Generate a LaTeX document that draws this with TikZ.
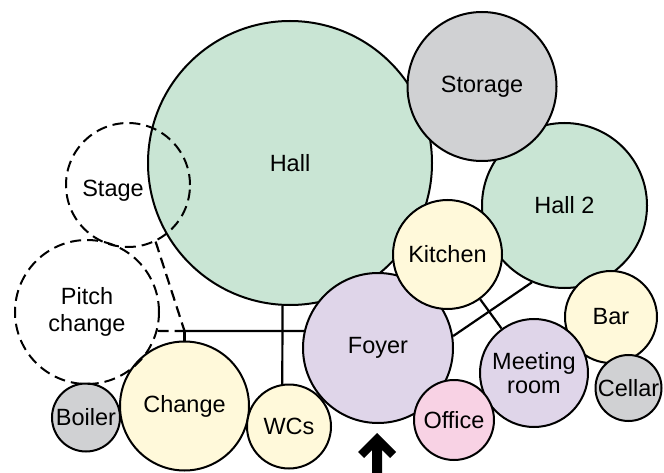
\documentclass[tikz,border=0pt]{standalone}
\usepackage{fontspec}
\setmainfont{Liberation Sans}
\usetikzlibrary{backgrounds}
\definecolor{cgreen}{RGB}{201,229,212}
\definecolor{cgray}{RGB}{208,209,211}
\definecolor{cyellow}{RGB}{255,249,218}
\definecolor{cpurple}{RGB}{223,213,233}
\definecolor{cpink}{RGB}{248,210,228}
\tikzset{
  room/.style={circle, draw=black, line width=2pt, inner sep=0pt, align=center, minimum size=#1},
  dashroom/.style={room=#1, dash pattern=on 11pt off 6pt},
  link/.style={line width=2.2pt},
  dashlink/.style={line width=2.2pt, dash pattern=on 11pt off 6pt},
}
\begin{document}
\begin{tikzpicture}[x=1pt, y=-1pt, font=\fontsize{23.5}{27}\selectfont]
\useasboundingbox (0,0) rectangle (664,473);
\node[room=284pt, fill=cgreen] (hall) at (290,163) {Hall};
\node[room=165pt, fill=cgreen] (hall2) at (564.5,205.5) {Hall 2};
\node[room=149pt, fill=cgray] (storage) at (482,86.5) {Storage};
\node[room=150pt, fill=cpurple] (foyer) at (378,348) {Foyer};
\node[room=109pt, fill=cyellow] (kitchen) at (447.5,254.5) {Kitchen};
\node[room=92pt, fill=cyellow] (bar) at (611,317) {Bar};
\node[room=66pt, fill=cgray] (cellar) at (628.5,388) {Cellar};
\node[room=108pt, fill=cpurple] (meeting) at (534,373) {Meeting\\[-3pt]room};
\node[room=80pt, fill=cpink] (office) at (454,420) {Office};
\node[room=68pt, fill=cgray] (boiler) at (86,417.5) {Boiler};
\node[room=129pt, fill=cyellow] (change) at (184.5,406) {Change};
\node[room=84pt, fill=cyellow] (wcs) at (289,426.5) {WCs};
\node[dashroom=124pt] (stage) at (128,185) {};
\node (stagetext) at (113,191) {Stage};
\node[dashroom=144pt] (pitch) at (87,312) {Pitch\\change};
\coordinate (j) at (184.5,331);
\begin{scope}[on background layer]
  \draw[link] (hall.-93) -- (wcs.99);
  \draw[link] (j) -- (foyer.167);
  \draw[link] (j) -- (change);
  \draw[dashlink] (pitch.-15) -- (j);
  \draw[dashlink] (stage.-64) -- (j);
  \draw[link] (kitchen) -- (meeting);
  \draw[link] (foyer.9) -- (hall2.-113);
\end{scope}
% entrance arrow
\fill (377,433) -- (396,452) -- (390,458) -- (382,450) -- (382,473) -- (372,473)
  -- (372,450) -- (364,458) -- (358,452) -- cycle;
\end{tikzpicture}
\end{document}
